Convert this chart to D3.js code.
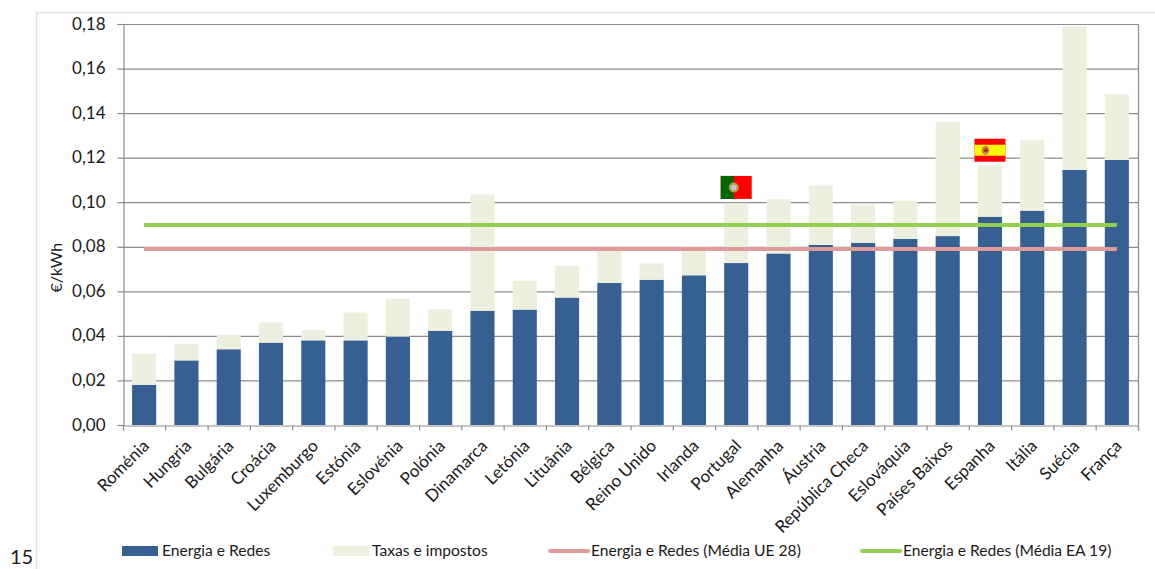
<!DOCTYPE html>
<html>
<head>
<meta charset="utf-8">
<script src="https://cdn.jsdelivr.net/npm/d3@7"></script>
<style>
  html, body { margin: 0; padding: 0; background: #fff; overflow: hidden; }
  text { font-family: Lato, "Open Sans", sans-serif; fill: #1a1a1a; }
</style>
</head>
<body>
<script>
// values
var paises = ["Roménia", "Hungria", "Bulgária", "Croácia", "Luxemburgo", "Estónia", "Eslovénia", "Polónia",
  "Dinamarca", "Letónia", "Lituânia", "Bélgica", "Reino Unido", "Irlanda", "Portugal", "Alemanha", "Áustria",
  "República Checa", "Eslováquia", "Países Baixos", "Espanha", "Itália", "Suécia", "França"];
var energia = [0.018, 0.029, 0.034, 0.037, 0.038, 0.038, 0.0397, 0.0423, 0.0513, 0.0518, 0.0572, 0.0638,
  0.0652, 0.0672, 0.0727, 0.077, 0.0808, 0.0818, 0.0835, 0.0848, 0.0935, 0.0962, 0.1145, 0.119];
var taxas = [0.014, 0.0075, 0.0065, 0.009, 0.0045, 0.0125, 0.017, 0.0097, 0.0522, 0.0129, 0.0143, 0.0152,
  0.0073, 0.0133, 0.0268, 0.0245, 0.0267, 0.0172, 0.0172, 0.0512, 0.023, 0.0318, 0.0645, 0.0295];
var mediaUE = 0.079;
var mediaEA = 0.0898;
var yTicks = [0, 0.02, 0.04, 0.06, 0.08, 0.10, 0.12, 0.14, 0.16, 0.18];
var legenda = ["Energia e Redes", "Taxas e impostos", "Energia e Redes (Média UE 28)", "Energia e Redes (Média EA 19)"];

var margin = {top: 24, right: 17, bottom: 144, left: 123},
    width = 1155 - margin.left - margin.right,
    height = 569 - margin.top - margin.bottom;

var svg = d3.select("body").append("svg")
    .attr("width", 1155)
    .attr("height", 569);

// frame of the pasted chart, and the stray page number
svg.append("path")
    .attr("d", "M36.5,569V12.5H1155")
    .attr("fill", "none")
    .attr("stroke", "#e3e3e3")
    .attr("stroke-width", 1.5);
svg.append("text")
    .attr("x", 10)
    .attr("y", 564)
    .style("font-size", "20px")
    .text("15");

var g = svg.append("g")
    .attr("transform", "translate(" + margin.left + "," + margin.top + ")");

var x = d3.scaleBand().domain(paises).range([0, width]).paddingInner(0.43).paddingOuter(0.215);
var y = d3.scaleLinear().domain([0, 0.18]).range([height, 0]);

var formatY = function(d) { return d3.format(".2f")(d).replace(".", ","); };

// gridlines
g.selectAll(".grid")
  .data(yTicks.filter(function(d) { return d > 0; }))
  .enter().append("line")
    .attr("class", "grid")
    .attr("x1", 0)
    .attr("x2", width)
    .attr("y1", function(d) { return y(d) + 0.5; })
    .attr("y2", function(d) { return y(d) + 0.5; })
    .attr("stroke", "#8c8c8c")
    .attr("stroke-width", 1.2);

// right border
g.append("line")
    .attr("x1", width + 0.5)
    .attr("x2", width + 0.5)
    .attr("y1", 0)
    .attr("y2", height)
    .attr("stroke", "#8c8c8c")
    .attr("stroke-width", 1.2);

// stacked bars
g.selectAll(".energia")
  .data(paises)
  .enter().append("rect")
    .attr("class", "energia")
    .attr("x", function(d) { return x(d); })
    .attr("width", x.bandwidth())
    .attr("y", function(d, i) { return y(energia[i]); })
    .attr("height", function(d, i) { return height - y(energia[i]); })
    .attr("fill", "#376092");

g.selectAll(".taxas")
  .data(paises)
  .enter().append("rect")
    .attr("class", "taxas")
    .attr("x", function(d) { return x(d); })
    .attr("width", x.bandwidth())
    .attr("y", function(d, i) { return y(energia[i] + taxas[i]); })
    .attr("height", function(d, i) { return y(energia[i]) - y(energia[i] + taxas[i]); })
    .attr("fill", "#ebf1de");

// average lines, from the first to the last bar centre
var first = x(paises[0]) + x.bandwidth() / 2,
    last = x(paises[paises.length - 1]) + x.bandwidth() / 2;

g.append("line")
    .attr("x1", first).attr("x2", last)
    .attr("y1", y(mediaUE)).attr("y2", y(mediaUE))
    .attr("stroke", "#e09c9b")
    .attr("stroke-width", 4);
g.append("line")
    .attr("x1", first).attr("x2", last)
    .attr("y1", y(mediaEA)).attr("y2", y(mediaEA))
    .attr("stroke", "#92d050")
    .attr("stroke-width", 4);

// axes
var xAxis = g.append("g")
    .attr("transform", "translate(0," + (height + 0.5) + ")")
    .call(d3.axisBottom(d3.scalePoint().domain(d3.range(paises.length + 1)).range([0, width])).tickSize(5).tickFormat(""));
xAxis.selectAll("path, line").attr("stroke", "#8c8c8c").attr("stroke-width", 1.2);

g.selectAll(".pais")
  .data(paises)
  .enter().append("text")
    .attr("class", "pais")
    .attr("text-anchor", "end")
    .attr("transform", function(d) {
      return "translate(" + (x(d) + x.bandwidth() / 2 + 6) + "," + (height + 22) + ") rotate(-45)";
    })
    .style("font-size", "17px")
    .text(function(d) { return d; });

var yAxis = g.append("g")
    .attr("transform", "translate(0.5,0)")
    .call(d3.axisLeft(y).tickValues(yTicks).tickFormat(formatY).tickSize(6).tickPadding(12));
yAxis.selectAll("path, line").attr("stroke", "#8c8c8c").attr("stroke-width", 1.2);
yAxis.selectAll("text").style("font-size", "17px").attr("dy", "0.3em");

g.append("text")
    .attr("transform", "translate(-61," + (height / 2 + 68) + ") rotate(-90)")
    .style("font-size", "16px")
    .text("€/kWh");

// flags over Portugal and Espanha
function flag(pais, topo) {
  var f = g.append("g")
      .attr("transform", "translate(" + (x(pais) + x.bandwidth() / 2 - 15.5) + "," + y(topo) + ")");
  if (pais === "Portugal") {
    f.append("rect").attr("width", 31).attr("height", 23).attr("fill", "#ff0000");
    f.append("rect").attr("width", 13).attr("height", 23).attr("fill", "#006600");
    f.append("circle").attr("cx", 13).attr("cy", 11.5).attr("r", 5).attr("fill", "#b8a040");
    f.append("circle").attr("cx", 13).attr("cy", 11.5).attr("r", 2.8).attr("fill", "#c9c4d8");
  } else {
    f.append("rect").attr("width", 31).attr("height", 23).attr("fill", "#ff0000");
    f.append("rect").attr("y", 6).attr("width", 31).attr("height", 11).attr("fill", "#ffff00");
    f.append("ellipse").attr("cx", 11).attr("cy", 11.5).attr("rx", 3.8).attr("ry", 4.5).attr("fill", "#d0803a");
    f.append("circle").attr("cx", 11.5).attr("cy", 11.5).attr("r", 2).attr("fill", "#b03020");
  }
}
flag("Portugal", 0.1118);
flag("Espanha", 0.1285);

// legend
var leg = svg.append("g").attr("transform", "translate(0,551)");
leg.append("rect").attr("x", 122).attr("y", -5).attr("width", 36).attr("height", 10).attr("fill", "#376092");
leg.append("rect").attr("x", 333).attr("y", -5).attr("width", 36).attr("height", 10).attr("fill", "#ebf1de");
leg.append("line").attr("x1", 550).attr("x2", 588).attr("stroke", "#e09c9b").attr("stroke-width", 4).attr("stroke-linecap", "round");
leg.append("line").attr("x1", 862).attr("x2", 900).attr("stroke", "#92d050").attr("stroke-width", 4).attr("stroke-linecap", "round");

var legX = [162, 372, 591, 903];
leg.selectAll(".legtxt")
  .data(legenda)
  .enter().append("text")
    .attr("class", "legtxt")
    .attr("x", function(d, i) { return legX[i]; })
    .attr("dy", "0.35em")
    .style("font-size", "15.6px")
    .text(function(d) { return d; });
</script>
</body>
</html>
